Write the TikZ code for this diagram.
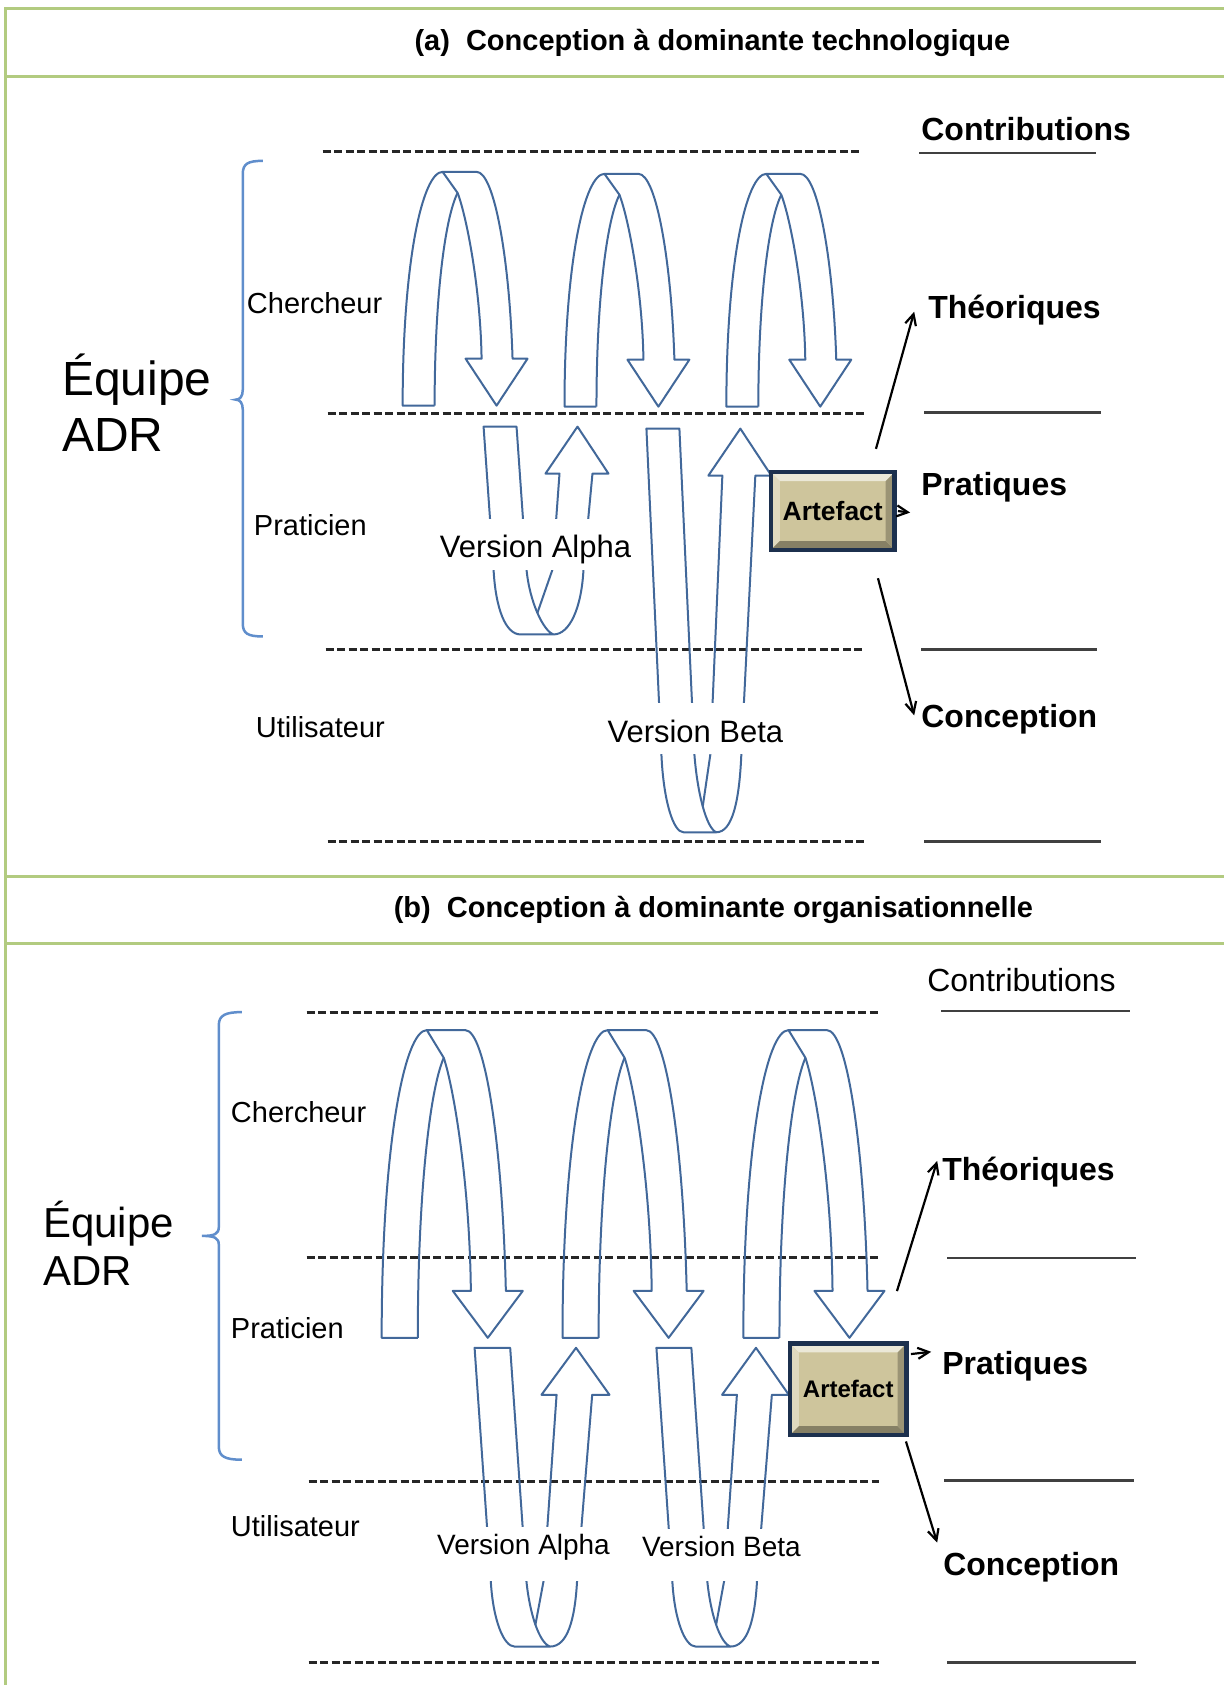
\documentclass[tikz,border=0pt]{standalone}
\usepackage{fontspec}
\setmainfont{Liberation Sans}
\usepackage{tikz}
\usetikzlibrary{arrows.meta,positioning}

\definecolor{vertcadre}{RGB}{178,203,128}
\definecolor{bleu}{RGB}{66,104,154}
\definecolor{bleuclair}{RGB}{96,142,204}
\definecolor{kaki}{RGB}{206,197,156}
\definecolor{marine}{RGB}{28,48,78}

\newcommand{\taille}[1]{\fontsize{#1}{#1}\selectfont}

% fleche en U vers le bas : x, y (pied), xscale, hauteur
\newcommand{\tourner}[4]{%
  \begin{scope}[shift={(#1,#2)}, xscale=#3]
    \draw[fleche] (32,0) -- (0,0) .. controls (0,-0.62*#4) and (20,-#4) .. (40,-#4) -- (74,-#4) .. controls (92,-#4) and (107,-0.62*#4) .. (110,-47) -- (125,-47) -- (94,0) -- (63,-47) -- (79,-47) .. controls (78,-0.5*#4) and (64,-0.81*#4) .. (55,-0.91*#4) -- (40,-#4);
    \draw[fleche] (32,0) .. controls (32,-0.45*#4) and (42,-0.8*#4) .. (55,-0.91*#4);
  \end{scope}}

% boucle vers le haut : x, y (haut), xscale, partie droite, courbe, resserrement
\newcommand{\boucle}[6]{%
  \begin{scope}[shift={(#1,#2)}, xscale=#3]
    \draw[fleche] (79-#6,#4) -- (76,47) -- (62,47) -- (94,0) -- (125,47) -- (109,47) -- (110-#6,#4) .. controls (108-#6,#4+0.6*#5) and (86,#4+#5) .. (70,#4+#5) -- (37,#4+#5) .. controls (#6+12,#4+#5) and (#6+2,#4+0.6*#5) .. (#6,#4) -- (0,0) -- (33,0) -- (#6+33,#4) .. controls (#6+36,#4+0.5*#5) and (60,#4+0.95*#5) .. (70,#4+#5) coordinate[pos=0.5] (pli);
    \draw[fleche] (79-#6,#4) -- (pli);
  \end{scope}}

\begin{document}
\begin{tikzpicture}[
    x=1pt, y=-1pt,
    every node/.style={inner sep=0pt},
    cadre/.style={draw=vertcadre, line width=3pt},
    niveau/.style={draw=black!85, line width=3pt, dash pattern=on 8pt off 3.5pt},
    trait/.style={draw=black!75, line width=2.6pt},
    fleche/.style={draw=bleu, line width=2pt, line join=round},
    accolade/.style={draw=bleuclair, line width=2.5pt},
    vers/.style={-{Straight Barb[length=11pt,width=11pt]}, line width=2.2pt},
    titre/.style={font=\bfseries\taille{29}},
    role/.style={anchor=west, font=\taille{29}},
    contrib/.style={anchor=west, font=\bfseries\taille{32}},
    version/.style={anchor=base, fill=white, inner xsep=1pt},
    artefact/.style={draw=marine, line width=4.5pt, fill=kaki, font=\bfseries,
      path picture={
        \fill[kaki!40!white] (path picture bounding box.north west) -- (path picture bounding box.north east) -- ([shift={(-9pt,-9pt)}]path picture bounding box.north east) -- ([shift={(9pt,-9pt)}]path picture bounding box.north west) -- cycle;
        \fill[kaki!65!white] (path picture bounding box.north west) -- ([shift={(9pt,-9pt)}]path picture bounding box.north west) -- ([shift={(9pt,9pt)}]path picture bounding box.south west) -- (path picture bounding box.south west) -- cycle;
        \fill[kaki!65!black] (path picture bounding box.south west) -- (path picture bounding box.south east) -- ([shift={(-9pt,9pt)}]path picture bounding box.south east) -- ([shift={(9pt,9pt)}]path picture bounding box.south west) -- cycle;
        \fill[kaki!75!black] (path picture bounding box.north east) -- (path picture bounding box.south east) -- ([shift={(-9pt,9pt)}]path picture bounding box.south east) -- ([shift={(-9pt,-9pt)}]path picture bounding box.north east) -- cycle;
      }}
  ]

  \fill[white] (0,0) rectangle (1225,1686);

  % cadre
  \draw[cadre] (6,9) -- (1225,9);
  \draw[cadre] (6,77) -- (1225,77);
  \draw[cadre] (6,877) -- (1225,877);
  \draw[cadre] (6,944) -- (1225,944);
  \draw[cadre] (6,7.5) -- (6,1686);

  \node[titre] (titreA) at (713,43) {(a)\ \ Conception à dominante technologique};
  \node[titre] (titreB) at (714,911) {(b)\ \ Conception à dominante organisationnelle};

  % (a) dominante technologique
  \draw[niveau] (323,152) -- (860,152);
  \draw[niveau] (328,414) -- (868,414);
  \draw[niveau] (326,650) -- (864,650);
  \draw[niveau] (328,842) -- (867,842);

  \draw[trait] (920,153) -- (1097,153);
  \draw[trait] (925,413) -- (1102,413);
  \draw[trait] (922,650) -- (1098,650);
  \draw[trait] (925,842) -- (1102,842);

  \draw[accolade] (263,161) .. controls (248,161) and (243,164) .. (243,174) -- (243,390) .. controls (243,397) and (240,400) .. (236,400) .. controls (240,400) and (243,403) .. (243,410) -- (243,624) .. controls (243,634) and (248,637) .. (263,637);

  \node[anchor=base west, font=\taille{48}] (equipeA) at (62,396) {Équipe};
  \node[anchor=base west, font=\taille{48}] (adrA) at (62,452) {ADR};
  \node[role] (chA) at (247,303) {Chercheur};
  \node[role] (paA) at (254,526) {Praticien};
  \node[role] (utA) at (256,728) {Utilisateur};

  \tourner{403}{406}{1}{234}
  \tourner{565}{407}{1}{233}
  \tourner{727}{407}{1}{233}
  \boucle{484}{427}{1}{143}{65}{10}
  \boucle{647}{429}{1}{326}{78}{15}

  \node[version, font=\taille{31}, text height=39pt, text depth=12pt] (alphaA) at (536,558) {Version Alpha};
  \node[version, font=\taille{31}, text height=39pt, text depth=12pt] (betaA) at (696,743) {Version Beta};

  \node[artefact, minimum width=124pt, minimum height=78pt, font=\bfseries\taille{26.5}] (artA) at (833.5,511.5) {Artefact};

  \node[contrib] (contA) at (922,129) {Contributions};
  \node[contrib] (thA) at (929,310) {Théoriques};
  \node[contrib] (prA) at (922,488) {Pratiques};
  \node[contrib] (coA) at (922,720) {Conception};

  \coordinate (pthA) at (915,312);
  \coordinate (pprA) at (911,513);
  \coordinate (pcoA) at (915,716);
  \draw[vers] ([shift={(-21,-21)}]artA.north east) -- (pthA);
  \draw[vers] ([xshift=1pt]artA.east) -- (pprA);
  \draw[vers] ([shift={(-19,26)}]artA.south east) -- (pcoA);

  % (b) dominante organisationnelle
  \draw[niveau] (307,1013) -- (880,1013);
  \draw[niveau] (307,1259) -- (880,1259);
  \draw[niveau] (309,1483) -- (880,1483);
  \draw[niveau] (309,1664) -- (880,1664);

  \draw[trait] (942,1012) -- (1131,1012);
  \draw[trait] (948,1259) -- (1137,1259);
  \draw[trait] (945,1482) -- (1135,1482);
  \draw[trait] (948,1664) -- (1137,1664);

  \draw[accolade] (242,1013) .. controls (226,1013) and (219,1016) .. (219,1026) -- (219,1228) .. controls (219,1235) and (215,1237) .. (202,1237) .. controls (215,1237) and (219,1239) .. (219,1246) -- (219,1448) .. controls (219,1458) and (226,1461) .. (242,1461);

  \node[anchor=base west, font=\taille{42}] (equipeB) at (43,1239) {Équipe};
  \node[anchor=base west, font=\taille{42}] (adrB) at (43,1287) {ADR};
  \node[role] (chB) at (231,1113) {Chercheur};
  \node[role] (paB) at (231,1329) {Praticien};
  \node[role] (utB) at (231,1527) {Utilisateur};

  \tourner{382}{1339}{1.13}{308}
  \tourner{563}{1339}{1.13}{308}
  \tourner{744}{1339}{1.13}{308}
  \boucle{475}{1349}{1.08}{233}{66}{15}
  \boucle{657}{1349}{1.06}{233}{66}{15}

  \node[version, font=\taille{28}, text height=28pt, text depth=26pt] (alphaB) at (524,1556) {Version Alpha};
  \node[version, font=\taille{28}, text height=28pt, text depth=24pt] (betaB) at (722,1558) {Version Beta};

  \node[artefact, minimum width=117pt, minimum height=92pt, font=\bfseries\taille{24}] (artB) at (849,1390.5) {Artefact};

  \node[anchor=west, font=\taille{32}] (contB) at (928,981) {Contributions};
  \node[contrib] (thB) at (943,1173) {Théoriques};
  \node[contrib] (prB) at (943,1367) {Pratiques};
  \node[contrib] (coB) at (944,1569) {Conception};

  \coordinate (pthB) at (938,1162);
  \coordinate (pprB) at (932,1353);
  \coordinate (pcoB) at (938,1544);
  \draw[vers] ([shift={(-12,-50)}]artB.north east) -- (pthB);
  \draw[vers] ([shift={(2,13)}]artB.north east) -- (pprB);
  \draw[vers] ([shift={(-3,4)}]artB.south east) -- (pcoB);

\end{tikzpicture}
\end{document}
